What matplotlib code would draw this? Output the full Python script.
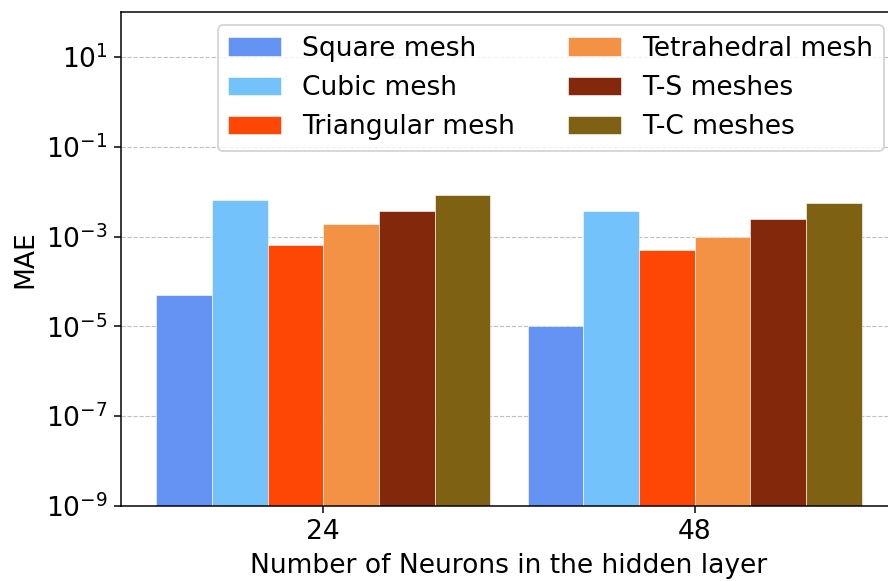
import matplotlib.pyplot as plt
import matplotlib.ticker as ticker
import numpy as np

# Neuron counts in the hidden layer
neurons = ['24', '48']

# MAE per mesh type
square_mesh = [4.9e-5, 1.0e-5]
cubic_mesh = [6.6e-3, 3.8e-3]
triangular_mesh = [6.6e-4, 4.9e-4]
tetrahedral_mesh = [1.95e-3, 9.6e-4]
ts_meshes = [3.8e-3, 2.4e-3]
tc_meshes = [8.5e-3, 5.7e-3]

labels = ['Square mesh', 'Cubic mesh', 'Triangular mesh',
          'Tetrahedral mesh', 'T-S meshes', 'T-C meshes']
series = [square_mesh, cubic_mesh, triangular_mesh,
          tetrahedral_mesh, ts_meshes, tc_meshes]
colors = ['#6593F3', '#73C2FB', '#FE4704', '#F39245', '#83280A', '#7E6113']

plt.rcParams['font.size'] = 14

dpi = 136
fig = plt.figure(figsize=(888 / dpi, 581 / dpi), dpi=dpi)
ax = fig.add_axes([121 / 888, 75 / 581, 776 / 888, 494 / 581])

x = np.arange(len(neurons))
width = 0.15
for i, (vals, label, color) in enumerate(zip(series, labels, colors)):
    offset = (i - 2.5) * width
    ax.bar(x + offset, vals, width, label=label, color=color,
           edgecolor='white', linewidth=0.3)

ax.set_yscale('log')
ax.set_ylim(1e-9, 1e2)
ax.set_yticks([1e-9, 1e-7, 1e-5, 1e-3, 1e-1, 1e1])
ax.yaxis.set_minor_locator(ticker.NullLocator())
ax.set_xticks(x)
ax.set_xticklabels(neurons)
ax.set_xlabel('Number of Neurons in the hidden layer')
ax.set_ylabel('MAE')
ax.grid(axis='y', linestyle='--', color='#b0b0b0', linewidth=0.6, alpha=0.8)
ax.set_axisbelow(True)
ax.legend(ncol=2, loc='upper right')

fig.savefig('out.png', dpi=dpi)
